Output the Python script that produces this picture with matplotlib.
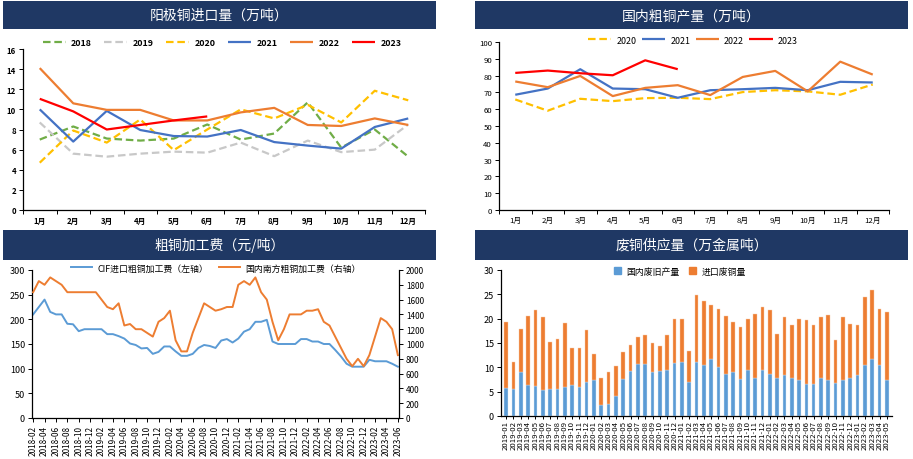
import matplotlib
matplotlib.use('Agg')
import matplotlib.pyplot as plt
import numpy as np
from matplotlib.patches import Rectangle, Patch
from matplotlib.lines import Line2D

plt.rcParams['font.family'] = ['Noto Sans CJK SC', 'DejaVu Sans']

# ---------------- data ----------------
months = ['1月', '2月', '3月', '4月', '5月', '6月', '7月', '8月', '9月', '10月', '11月', '12月']

anode_2018 = [7.0, 8.3, 7.1, 6.9, 7.1, 8.5, 7.0, 7.6, 10.7, 6.2, 8.0, 5.3]
anode_2019 = [8.7, 5.6, 5.3, 5.6, 5.8, 5.7, 6.7, 5.35, 6.9, 5.75, 6.0, 8.5]
anode_2020 = [4.7, 7.9, 6.7, 9.0, 5.95, 8.0, 10.0, 9.1, 10.45, 8.7, 11.85, 10.9]
anode_2021 = [10.0, 6.8, 9.85, 7.95, 7.35, 7.3, 7.95, 6.75, 6.4, 6.1, 8.25, 9.1]
anode_2022 = [14.1, 10.6, 9.95, 9.95, 8.9, 8.9, 9.7, 10.15, 8.45, 8.35, 9.1, 8.45]
anode_2023 = [11.05, 9.8, 8.0, 8.45, 8.9, 9.3]

blister_2020 = [65.8, 59.1, 66.2, 64.8, 66.6, 66.8, 66.0, 70.2, 71.3, 70.6, 68.6, 74.7]
blister_2021 = [68.6, 72.3, 83.8, 72.3, 71.9, 66.8, 71.3, 71.9, 72.7, 71.3, 76.3, 75.9]
blister_2022 = [76.5, 73.1, 79.8, 67.8, 72.7, 74.3, 68.4, 79.2, 82.8, 70.6, 88.3, 80.6]
blister_2023 = [81.6, 83.0, 81.4, 80.2, 89.1, 83.8]

tc_dates = ['2018-02', '2018-03', '2018-04', '2018-05', '2018-06', '2018-07', '2018-08', '2018-09',
            '2018-10', '2018-11', '2018-12', '2019-01', '2019-02', '2019-03', '2019-04', '2019-05',
            '2019-06', '2019-07', '2019-08', '2019-09', '2019-10', '2019-11', '2019-12', '2020-01',
            '2020-02', '2020-03', '2020-04', '2020-05', '2020-06', '2020-07', '2020-08', '2020-09',
            '2020-10', '2020-11', '2020-12', '2021-01', '2021-02', '2021-03', '2021-04', '2021-05',
            '2021-06', '2021-07', '2021-08', '2021-09', '2021-10', '2021-11', '2021-12', '2022-01',
            '2022-02', '2022-03', '2022-04', '2022-05', '2022-06', '2022-07', '2022-08', '2022-09',
            '2022-10', '2022-11', '2022-12', '2023-01', '2023-02', '2023-03', '2023-04', '2023-05',
            '2023-06']
tc_cif = [210, 225, 240, 215, 210, 210, 191, 190, 176, 180, 180, 180, 180, 170, 170, 166,
          161, 151, 148, 141, 142, 130, 134, 145, 145, 135, 126, 126, 130, 142, 148, 146,
          142, 157, 160, 153, 161, 175, 180, 195, 195, 199, 155, 150, 150, 150, 150, 160,
          160, 155, 155, 150, 150, 138, 125, 110, 104, 104, 104, 118, 115, 115, 115, 110,
          104]
tc_south = [1700, 1850, 1800, 1900, 1850, 1800, 1700, 1700, 1700, 1700, 1700, 1700, 1600, 1500, 1470, 1550,
            1250, 1270, 1200, 1200, 1150, 1100, 1300, 1350, 1450, 1050, 900, 900, 1150, 1350, 1550, 1500,
            1450, 1470, 1500, 1500, 1800, 1850, 1800, 1900, 1700, 1600, 1300, 1050, 1200, 1400, 1400, 1400,
            1450, 1450, 1470, 1300, 1250, 1100, 950, 800, 700, 800, 700, 850, 1100, 1350, 1300, 1200,
            850]

scrap_dates = ['2019-01', '2019-02', '2019-03', '2019-04', '2019-05', '2019-06', '2019-07', '2019-08',
               '2019-09', '2019-10', '2019-11', '2019-12', '2020-01', '2020-02', '2020-03', '2020-04',
               '2020-05', '2020-06', '2020-07', '2020-08', '2020-09', '2020-10', '2020-11', '2020-12',
               '2021-01', '2021-02', '2021-03', '2021-04', '2021-05', '2021-06', '2021-07', '2021-08',
               '2021-09', '2021-10', '2021-11', '2021-12', '2022-01', '2022-02', '2022-03', '2022-04',
               '2022-05', '2022-06', '2022-07', '2022-08', '2022-09', '2022-10', '2022-11', '2022-12',
               '2023-01', '2023-02', '2023-03', '2023-04', '2023-05']
scrap_domestic = [5.7, 5.6, 9.0, 6.4, 6.2, 5.3, 5.6, 5.6, 6.0, 6.4, 6.0, 7.0, 7.3, 2.3, 2.5, 4.1,
                  7.7, 9.3, 10.6, 10.6, 9.0, 9.3, 9.5, 10.8, 11.0, 7.0, 11.1, 10.4, 11.8, 10.1, 8.7, 9.1,
                  7.7, 9.4, 7.9, 9.4, 8.7, 7.9, 8.5, 7.9, 7.4, 6.5, 6.5, 7.9, 7.4, 6.8, 7.4, 7.9,
                  8.5, 10.5, 11.8, 10.5, 7.3]
scrap_total = [19.4, 11.0, 17.9, 20.6, 21.7, 20.3, 15.2, 15.9, 19.2, 14.0, 14.0, 17.7, 12.7, 7.9, 9.0, 10.2,
               13.1, 14.5, 16.2, 16.6, 15.1, 14.3, 16.7, 20.0, 19.9, 13.4, 24.8, 23.7, 22.9, 21.9, 20.6, 19.4,
               18.3, 20.0, 21.0, 22.3, 21.7, 16.8, 20.4, 18.8, 20.0, 19.7, 18.8, 20.3, 20.8, 15.7, 20.3, 19.0,
               18.8, 24.4, 25.8, 22.0, 21.4]
scrap_import = [t - d for t, d in zip(scrap_total, scrap_domestic)]

# ---------------- layout helpers ----------------
W, H = 913, 460
fig = plt.figure(figsize=(W / 100, H / 100), dpi=100)
NAVY = '#1F3864'
TFS = 5.6
LFS = 6.4


def ax_px(l, t, r, b):
    return fig.add_axes([l / W, 1 - b / H, (r - l) / W, (b - t) / H])


def title_bar(l, t, r, b, text):
    fig.patches.append(Rectangle((l / W, 1 - b / H), (r - l) / W, (b - t) / H,
                                 transform=fig.transFigure, facecolor=NAVY, edgecolor='none'))
    fig.text((l + r) / 2 / W, 1 - (t + b) / 2 / H, text, color='white',
             ha='center', va='center', fontsize=10)


def style_ax(ax):
    for s in ['top', 'right']:
        ax.spines[s].set_visible(False)
    for s in ['left', 'bottom']:
        ax.spines[s].set_color('black')
        ax.spines[s].set_linewidth(0.9)
    ax.tick_params(axis='both', labelsize=TFS, length=3, width=0.7, pad=2)
    ax.set_facecolor('none')


def legend_at(handles, labels, cx, cy, ncol, hl=2.6, cs=1.3, weight='bold'):
    fig.legend(handles, labels, loc='center', bbox_to_anchor=(cx / W, 1 - cy / H), ncol=ncol,
               frameon=False, handlelength=hl, columnspacing=cs,
               handletextpad=0.6, borderpad=0.1, prop={'size': LFS, 'weight': weight})


# ---------------- panel 1 ----------------
title_bar(3, 2, 436, 30, '阳极铜进口量（万吨）')
ax1 = ax_px(23, 50, 425, 211)
style_ax(ax1)
x12 = np.arange(12)
dash = (3.4, 1.7)
p1 = [
    (anode_2018, '2018', '#70AD47', dash),
    (anode_2019, '2019', '#C8C8C8', dash),
    (anode_2020, '2020', '#FFC000', dash),
    (anode_2021, '2021', '#4472C4', None),
    (anode_2022, '2022', '#ED7D31', None),
    (anode_2023, '2023', '#FF0000', None),
]
h1 = []
for vals, lab, col, ds in p1:
    ln, = ax1.plot(np.arange(len(vals)), vals, color=col, lw=1.6, label=lab,
                   solid_capstyle='butt', dash_capstyle='butt')
    if ds:
        ln.set_dashes(ds)
    h1.append(ln)
ax1.set_xlim(-0.5, 11.5)
ax1.set_ylim(0, 16)
ax1.set_yticks(np.arange(0, 17, 2))
ax1.set_xticks(x12)
ax1.set_xticklabels(months, fontweight='bold')
ax1.set_xticks(np.arange(-0.5, 12, 1), minor=True)
ax1.tick_params(axis='x', which='major', length=0, pad=4)
ax1.tick_params(axis='x', which='minor', length=3, width=0.7)
for t in ax1.get_yticklabels():
    t.set_fontweight('bold')
legend_at(h1, [p[1] for p in p1], 222, 44, 6, hl=2.6, cs=1.4)

# ---------------- panel 2 ----------------
title_bar(475, 2, 908, 30, '国内粗铜产量（万吨）')
ax2 = ax_px(499, 43, 889, 211)
style_ax(ax2)
p2 = [
    (blister_2020, '2020', '#FFC000', dash),
    (blister_2021, '2021', '#4472C4', None),
    (blister_2022, '2022', '#ED7D31', None),
    (blister_2023, '2023', '#FF0000', None),
]
h2 = []
for vals, lab, col, ds in p2:
    ln, = ax2.plot(np.arange(len(vals)), vals, color=col, lw=1.6, label=lab,
                   solid_capstyle='butt', dash_capstyle='butt')
    if ds:
        ln.set_dashes(ds)
    h2.append(ln)
ax2.set_xlim(-0.5, 11.5)
ax2.set_ylim(0, 100)
ax2.set_yticks(np.arange(0, 101, 10))
ax2.set_xticks(x12)
ax2.set_xticklabels(months)
ax2.set_xticks(np.arange(-0.5, 12, 1), minor=True)
ax2.tick_params(axis='x', which='major', length=0, pad=4)
ax2.tick_params(axis='x', which='minor', length=3, width=0.7)
legend_at(h2, [p[1] for p in p2], 693, 41, 4, hl=2.6, cs=0.6, weight='normal')

# ---------------- panel 3 ----------------
title_bar(3, 231, 436, 261, '粗铜加工费（元/吨）')
ax3 = ax_px(32, 271, 399, 419)
style_ax(ax3)
n3 = len(tc_dates)
x3 = np.arange(n3)
l3a, = ax3.plot(x3, tc_cif, color='#5B9BD5', lw=1.4)
ax3.set_ylim(0, 300)
ax3.set_yticks(np.arange(0, 301, 50))
ax3.set_xlim(-0.2, n3 - 0.8)
ax3.set_xticks(x3[::2])
ax3.set_xticklabels(tc_dates[::2], rotation=90, fontsize=5.9)
ax3.tick_params(axis='y', labelsize=6.5)
ax3r = ax3.twinx()
ax3r.set_facecolor('none')
for s in ['top', 'left']:
    ax3r.spines[s].set_visible(False)
ax3r.spines['right'].set_color('black')
ax3r.spines['right'].set_linewidth(0.9)
ax3r.spines['bottom'].set_visible(False)
l3b, = ax3r.plot(x3, tc_south, color='#ED7D31', lw=1.4)
ax3r.set_ylim(0, 2000)
ax3r.set_yticks(np.arange(0, 2001, 200))
ax3r.tick_params(axis='y', labelsize=5.9, length=3, width=0.7, pad=2)
legend_at([l3a, l3b], ['CIF进口粗铜加工费（左轴）', '国内南方粗铜加工费（右轴）'], 216, 269, 2,
          hl=2.4, cs=1.2, weight='normal')

# ---------------- panel 4 ----------------
title_bar(475, 231, 908, 261, '废铜供应量（万金属吨）')
ax4 = ax_px(501, 271, 892, 417)
style_ax(ax4)
n4 = len(scrap_dates)
x4 = np.arange(n4)
ax4.bar(x4, scrap_domestic, width=0.5, color='#5B9BD5', edgecolor='#DCE9F5', linewidth=0.3)
ax4.bar(x4, scrap_import, width=0.5, bottom=scrap_domestic, color='#ED7D31',
        edgecolor='#F8CBAD', linewidth=0.3)
ax4.set_xlim(-0.7, n4 - 0.3)
ax4.set_ylim(0, 30)
ax4.set_yticks(np.arange(0, 31, 5))
ax4.set_xticks(x4)
ax4.set_xticklabels(scrap_dates, rotation=90, fontsize=TFS)
ax4.tick_params(axis='x', length=2, pad=1)
ax4.tick_params(axis='y', labelsize=6.5)
legend_at([Patch(color='#5B9BD5'), Patch(color='#ED7D31')], ['国内废旧产量', '进口废铜量'],
          680, 272, 2, hl=0.8, cs=1.0, weight='normal')

fig.savefig('out.png', dpi=100, facecolor='white')
